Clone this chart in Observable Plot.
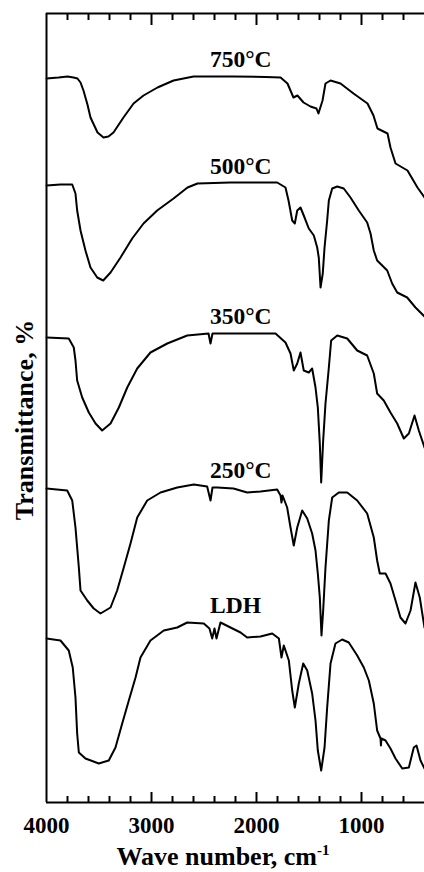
<!DOCTYPE html>
<html><head><meta charset="utf-8">
<script src="https://cdn.jsdelivr.net/npm/d3@7"></script>
<script src="https://cdn.jsdelivr.net/npm/@observablehq/plot@0.6"></script>
<style>html,body{margin:0;padding:0;background:#fff;}</style>
</head><body><div id="chart"></div>
<script>
// Wavenumbers (cm-1) and transmittance (stacked, arbitrary offset)
const wn750 = [4000,3886,3800,3743,3705,3676,3648,3610,3581,3514,3457,3410,3362,3267,3171,3076,2943,2790,2600,2219,1914,1771,1705,1648,1610,1552,1486,1429,1410,1371,1343,1295,1200,1076,943,886,848,752,724,676,562,467,400];
const t750  = [72.4,72.5,72.6,72.5,72.4,72.0,71.2,69.8,68.5,67.0,66.5,66.6,67.0,68.5,69.9,70.7,71.5,72.2,72.6,72.6,72.55,72.5,71.9,70.5,70.7,70.0,69.6,69.4,68.9,70.2,71.9,72.2,71.9,70.9,69.9,68.7,67.4,66.9,65.5,63.9,63.2,61.5,60.5];
const wn500 = [4000,3867,3755,3724,3708,3676,3629,3581,3517,3460,3390,3295,3184,3076,2946,2790,2657,2562,2248,1803,1724,1695,1660,1635,1612,1581,1550,1502,1454,1422,1407,1390,1369,1352,1327,1311,1279,1231,1169,1105,1026,946,914,883,851,755,708,660,565,486,400];
const t500  = [61.7,61.8,61.8,60.9,59.2,57.2,55.2,53.5,52.5,52.2,53.0,54.5,56.4,57.9,59.2,60.4,61.5,61.9,62.0,62.0,61.5,60.2,58.2,57.9,59.2,59.5,58.7,57.4,56.7,55.5,54.5,51.5,52.9,55.5,58.2,60.2,61.4,61.6,61.4,60.5,59.2,58.0,56.9,55.2,54.2,53.2,51.9,51.0,50.5,49.5,48.6];
const wn350 = [4000,3788,3740,3724,3708,3660,3597,3533,3470,3390,3311,3231,3136,3010,2850,2660,2457,2438,2419,1819,1724,1676,1645,1612,1581,1550,1502,1470,1438,1416,1397,1384,1365,1343,1311,1289,1231,1136,1041,946,883,851,788,724,660,597,549,495,454,400];
const t350  = [46.5,46.4,45.5,44.2,42.2,40.5,39.0,37.9,37.2,37.9,39.5,41.5,43.4,45.0,45.9,46.7,46.9,45.9,46.9,46.9,46.0,44.9,43.2,43.9,45.0,43.2,43.0,43.4,41.5,39.5,35.9,32.0,36.2,39.9,43.5,46.2,46.7,46.4,45.2,44.7,42.9,40.9,40.2,39.0,37.9,36.4,36.9,38.7,37.2,35.5];
const wn250 = [4000,3803,3755,3724,3692,3676,3612,3550,3486,3390,3327,3264,3200,3136,3041,2914,2755,2597,2470,2438,2419,2374,2219,2089,1962,1803,1771,1762,1752,1708,1676,1645,1612,1565,1517,1470,1438,1416,1397,1381,1365,1343,1311,1279,1216,1136,1041,946,883,851,826,771,724,676,629,581,533,486,445,400];
const t250  = [31.4,31.2,30.2,27.5,23.5,21.2,20.2,19.4,18.9,19.5,21.2,23.5,25.9,28.5,30.2,31.0,31.5,31.8,31.6,30.2,31.5,31.5,31.4,31.0,31.1,31.3,30.7,30.0,30.7,29.5,27.5,25.7,27.5,29.2,28.4,26.9,25.2,22.9,20.5,16.7,19.2,23.5,28.2,30.5,31.0,31.0,30.2,28.9,26.5,24.2,22.9,22.9,21.9,20.2,18.5,17.9,19.2,22.0,20.5,17.5];
const wnLDH = [4000,3867,3788,3750,3724,3708,3692,3629,3502,3407,3343,3279,3216,3152,3105,3010,2883,2755,2660,2502,2448,2422,2400,2381,2343,2152,2089,1962,1850,1787,1762,1740,1692,1660,1635,1597,1555,1517,1470,1438,1416,1384,1352,1327,1295,1248,1184,1121,1041,978,930,883,851,819,815,810,771,724,676,612,549,502,476,438,400];
const tLDH  = [16.4,16.2,15.2,13.5,10.5,6.9,5.0,4.4,3.9,4.2,5.5,7.9,10.2,12.5,14.5,16.2,17.2,17.5,18.0,17.9,17.4,16.4,17.4,16.4,18.0,17.0,16.5,16.6,16.9,16.4,14.5,15.7,14.2,11.2,9.5,11.9,13.9,13.2,10.9,8.2,5.2,3.2,5.5,9.5,13.9,15.9,16.3,16.0,14.7,13.5,12.2,9.9,7.2,6.4,5.7,6.4,6.2,5.4,4.4,3.4,3.5,5.5,5.7,4.2,3.4];

const seriesNames = ["750°C","500°C","350°C","250°C","LDH"];
const labelWn = [2150,2150,2150,2150,2200];
const labelT  = [73.6,62.9,47.9,32.5,19.0];
const majorTicks = [3000,2000,1000];
const tickLabels = [4000,3000,2000,1000];
const minorTicks = [3800,3600,3400,3200,2800,2600,2400,2200,1800,1600,1400,1200,800,600];
const xDomain = [4000,400];
const yDomain = [0,78.9];
const xTitle = "Wave number, cm";
const xTitleSup = "-1";
const yTitle = "Transmittance, %";

const seriesWn = [wn750, wn500, wn350, wn250, wnLDH];
const seriesT  = [t750, t500, t350, t250, tLDH];
const rows = seriesNames.flatMap((name, k) => seriesWn[k].map((w, i) => ({series: name, wn: w, t: seriesT[k][i]})));
const labels = seriesNames.map((name, k) => ({name, wn: labelWn[k], t: labelT[k]}));

const W = 424, H = 872, mt = 13, mb = 70, ml = 46, mr = 0;
const innerH = H - mt - mb;
const font = "'Liberation Serif','Times New Roman',serif";

const svg = Plot.plot({
  width: W, height: H,
  marginTop: mt, marginBottom: mb, marginLeft: ml, marginRight: mr,
  x: {domain: xDomain, axis: null},
  y: {domain: yDomain, axis: null},
  style: {fontFamily: font, background: "white", color: "black"},
  marks: [
    Plot.line(rows, {x: "wn", y: "t", z: "series", stroke: "black", strokeWidth: 2, strokeLinejoin: "round"}),
    Plot.axisX({ticks: tickLabels, anchor: "bottom", label: null, tickSize: 0, tickPadding: 14, fontSize: 23, fontWeight: "bold", tickFormat: d => String(d)}),
    Plot.text(labels, {x: "wn", y: "t", text: "name", textAnchor: "middle", lineAnchor: "bottom", fontSize: 23.5, fontWeight: "bold", fill: "black"}),
    Plot.ruleX([xDomain[0]], {stroke: "black", strokeWidth: 2}),
    Plot.ruleY([yDomain[0], yDomain[1]], {stroke: "black", strokeWidth: 2}),
    Plot.ruleX(minorTicks, {x: d => d, insetBottom: innerH - 7, stroke: "black", strokeWidth: 2}),
    Plot.ruleX(majorTicks, {x: d => d, insetBottom: innerH - 12, stroke: "black", strokeWidth: 2}),
    Plot.ruleX(minorTicks, {x: d => d, insetTop: innerH - 6, stroke: "black", strokeWidth: 2}),
    Plot.ruleX(majorTicks, {x: d => d, insetTop: innerH - 10, stroke: "black", strokeWidth: 2})
  ]
});

const s = d3.select(svg);
const xt = s.append("text")
  .attr("x", 223).attr("y", 865)
  .attr("text-anchor", "middle")
  .attr("font-family", font).attr("font-weight", "bold").attr("font-size", 26)
  .attr("fill", "black");
xt.append("tspan").text(xTitle);
xt.append("tspan").attr("font-size", 15).attr("dy", -10).text(xTitleSup);

s.append("text")
  .attr("transform", "translate(33,420) rotate(-90)")
  .attr("text-anchor", "middle")
  .attr("font-family", font).attr("font-weight", "bold").attr("font-size", 26)
  .attr("fill", "black")
  .text(yTitle);

document.getElementById("chart").appendChild(svg);
</script>
</body></html>
